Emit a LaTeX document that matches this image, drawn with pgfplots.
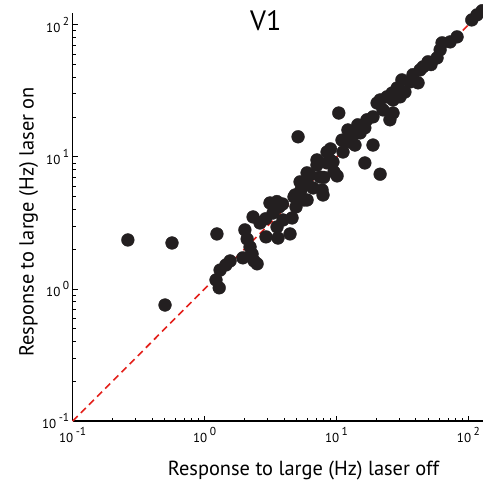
\documentclass[border=0pt]{standalone}
\usepackage{pgfplots}
\pgfplotsset{compat=1.18}
\usepackage{fontspec}
\setmainfont{PT Sans}
\definecolor{dot}{HTML}{231F20}
\definecolor{diag}{HTML}{E3201B}
% power-of-ten tick label set in the text font
\newcommand\dec[1]{10\hspace{2.5pt}\raisebox{1.05ex}{\fontsize{11.5}{11.5}\selectfont #1}}

\pgfplotstableread{
x y
0.262 2.35
0.566 2.23
0.501 0.756
1.24 2.61
5.11 14.2
10.4 21.5
18.9 12.3
16.4 9.0
21.4 7.4
1.22 1.17
1.29 1.02
1.31 1.39
1.56 1.63
1.45 1.52
1.95 1.72
2.37 1.63
2.50 1.55
2.02 2.80
2.10 2.39
2.21 2.08
2.29 1.84
2.33 3.51
2.63 3.16
2.92 2.48
3.13 4.48
3.30 3.76
3.67 4.18
3.60 2.43
4.44 2.61
3.54 2.95
3.93 3.33
4.60 3.45
4.76 4.98
4.93 4.18
5.29 6.47
5.38 5.62
5.67 4.72
5.98 7.57
6.29 7.31
6.64 5.82
7.77 5.62
7.90 5.15
7.11 8.70
7.11 9.49
8.47 10.9
8.47 9.01
9.40 9.16
9.57 7.70
10.1 7.18
11.0 13.4
11.2 10.9
12.2 16.0
13.3 14.7
13.8 12.3
15.1 15.2
17.0 19.1
16.4 16.6
18.9 20.1
20.3 25.6
21.4 27.0
22.5 22.7
24.1 28.5
25.4 19.1
26.8 21.5
26.4 30.5
28.8 33.3
26.8 27.0
30.3 28.5
31.3 38.3
36.1 37.0
41.5 36.4
43.0 45.6
45.3 48.1
49.4 52.5
57.8 56.2
61.0 64.7
63.1 73.1
72.6 74.3
82.0 81.1
106 109
116 119
127 128
4.85 5.15
5.98 4.72
3.53 4.59
8.93 9.49
7.50 7.05
12.6 13.0
6.0 6.2
8.0 7.0
9.0 11.5
3.9 4.4
2.9 3.4
14.5 17.5
33.0 31.0
38.0 42.0
52.0 50.0
}\cells

\begin{document}
\begin{tikzpicture}
\begin{axis}[
  at={(0,0)}, anchor=south west,
  scale only axis, width=461.7pt, height=408pt,
  xmode=log, ymode=log,
  xmin=0.1, xmax=316.2, ymin=0.1, ymax=123,
  clip=false,
  axis x line*=bottom, axis y line*=left,
  axis line style={line width=1.1pt, black, -},
  tick align=inside,
  major tick length=5.5pt, minor tick length=3.5pt,
  every tick/.style={line width=0.9pt, black},
  xtick={0.1,1,10,100}, xticklabels={\dec{-1},\dec{0},\dec{1},\dec{2}},
  ytick={0.1,1,10,100}, yticklabels={\dec{-1},\dec{0},\dec{1},\dec{2}},
  minor xtick={0.2,0.3,0.4,0.5,0.6,0.7,0.8,0.9,2,3,4,5,6,7,8,9,20,30,40,50,60,70,80,90},
  minor ytick={0.2,0.3,0.4,0.5,0.6,0.7,0.8,0.9,2,3,4,5,6,7,8,9,20,30,40,50,60,70,80,90},
  ticklabel style={font=\fontsize{13}{13}\selectfont},
  xticklabel style={yshift=-3pt},
  xlabel={Response to large (Hz) laser off},
  ylabel={Response to large (Hz) laser on},
  label style={font=\fontsize{20.4}{20.4}\selectfont},
  xlabel style={at={([yshift=-54pt]axis description cs:0.5,0)}, anchor=base},
  ylabel style={at={([xshift=-39pt]axis description cs:0,0.488)}, anchor=base},
]
\addplot[only marks, mark=*, mark size=6.4pt, dot, mark options={draw=dot, fill=dot}] table {\cells};
\addplot[diag, line width=1.6pt, dash pattern=on 7pt off 4.5pt] coordinates {(0.1,0.1) (135,135)};
\node[anchor=base, font=\fontsize{28}{28}\selectfont] at (axis description cs:0.418,0.956) {V1};
\end{axis}
\pgfresetboundingbox
\path[use as bounding box] (-72.7pt,-62pt) rectangle (410.3pt,421pt);
\end{tikzpicture}
\end{document}
